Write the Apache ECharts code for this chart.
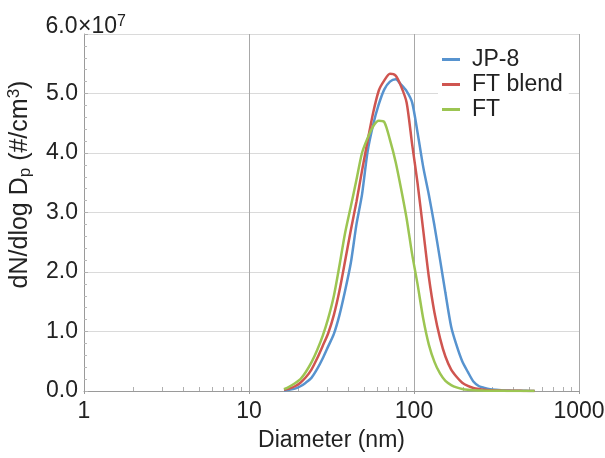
<!DOCTYPE html>
<html>
<head>
<meta charset="utf-8">
<script src="https://cdn.jsdelivr.net/npm/echarts@6/dist/echarts.min.js"></script>
<style>
  html, body { margin: 0; padding: 0; background: #fff; }
  #chart { width: 605px; height: 458px; }
</style>
</head>
<body>
<div id="chart"></div>
<script>
// Particle size distributions (SMPS), dN/dlog Dp in #/cm3
const diameters = [16.3, 17.5, 19.0, 20.5, 22.1, 23.9, 25.9, 28.0, 30.2, 32.7, 35.3, 38.2, 41.4, 44.8, 48.4, 52.3,
  56.6, 61.2, 66.1, 71.5, 77.4, 83.5, 90.2, 97.4, 105, 114, 123, 133, 144, 155, 168, 181, 196, 212, 229, 248,
  268, 289, 313, 338, 365, 395, 427, 461, 498, 538];

const jp8 = [0.01e7, 0.02e7, 0.04e7, 0.08e7, 0.14e7, 0.22e7, 0.37e7, 0.55e7, 0.75e7, 0.96e7, 1.27e7, 1.68e7,
  2.15e7, 2.8e7, 3.3e7, 4.02e7, 4.48e7, 4.82e7, 5.07e7, 5.2e7, 5.24e7, 5.15e7, 5.04e7, 4.85e7, 4.35e7, 3.75e7,
  3.3e7, 2.78e7, 2.2e7, 1.65e7, 1.08e7, 0.77e7, 0.5e7, 0.32e7, 0.16e7, 0.08e7, 0.05e7, 0.03e7, 0.02e7,
  0.013e7, 0.009e7, 0.006e7, 0.004e7, 0.003e7, 0.002e7, 0.001e7];

const ftBlend = [0.02e7, 0.04e7, 0.08e7, 0.14e7, 0.23e7, 0.36e7, 0.55e7, 0.76e7, 0.97e7, 1.28e7, 1.68e7, 2.18e7,
  2.7e7, 3.18e7, 3.7e7, 4.2e7, 4.68e7, 5.05e7, 5.22e7, 5.33e7, 5.3e7, 5.12e7, 4.85e7, 4.15e7, 3.5e7, 2.68e7,
  1.92e7, 1.32e7, 0.88e7, 0.58e7, 0.36e7, 0.24e7, 0.14e7, 0.085e7, 0.05e7, 0.032e7, 0.02e7, 0.014e7, 0.01e7,
  0.007e7, 0.005e7, 0.004e7, 0.003e7, 0.002e7, 0.0015e7, 0.001e7];

const ft = [0.03e7, 0.07e7, 0.13e7, 0.2e7, 0.32e7, 0.48e7, 0.69e7, 0.93e7, 1.22e7, 1.6e7, 2.1e7, 2.65e7,
  3.1e7, 3.55e7, 4.0e7, 4.25e7, 4.45e7, 4.54e7, 4.52e7, 4.22e7, 3.85e7, 3.4e7, 2.9e7, 2.3e7, 1.8e7, 1.2e7,
  0.78e7, 0.49e7, 0.29e7, 0.17e7, 0.1e7, 0.06e7, 0.035e7, 0.02e7, 0.012e7, 0.008e7, 0.005e7, 0.004e7,
  0.003e7, 0.0025e7, 0.002e7, 0.0015e7, 0.0012e7, 0.001e7, 0.001e7, 0.001e7];

const seriesNames = ['JP-8', 'FT blend', 'FT'];
const seriesColors = ['#5793cf', '#cf5550', '#9cc552'];

// minor tick positions between decades
const minorTicks = [2, 3, 4, 5, 6, 7, 8, 9, 20, 30, 40, 50, 60, 70, 80, 90, 200, 300, 400, 500, 600, 700, 800, 900];

const FONT = 'Liberation Sans, Arial, sans-serif';
const FS = 23;

function pairs(values) {
  return diameters.map((d, i) => [d, values[i]]);
}

const chart = echarts.init(document.getElementById('chart'), null, { renderer: 'canvas' });

chart.setOption({
  animation: false,
  backgroundColor: '#fff',
  textStyle: { fontFamily: FONT },
  grid: { left: 84, right: 26, top: 34, bottom: 67, containLabel: false, outerBoundsMode: 'none' },
  legend: {
    data: seriesNames,
    orient: 'vertical',
    left: 438,
    top: 45,
    padding: [3, 6, 3, 4],
    itemGap: 2,
    itemWidth: 18,
    itemHeight: 3,
    icon: 'rect',
    backgroundColor: '#fff',
    textStyle: { fontFamily: FONT, fontSize: FS, color: '#222', padding: [0, 0, 0, 7] }
  },
  xAxis: [
    {
      type: 'log',
      logBase: 10,
      min: 1,
      max: 1000,
      name: 'Diameter (nm)',
      nameLocation: 'middle',
      nameGap: 38,
      nameTextStyle: { fontFamily: FONT, fontSize: FS, color: '#222' },
      axisLine: { show: true, lineStyle: { color: '#9a9a9a', width: 1 } },
      axisTick: { show: true, inside: false, length: 3, lineStyle: { color: '#9a9a9a' } },
      axisLabel: { fontFamily: FONT, fontSize: FS, color: '#222', margin: 9, formatter: v => String(v) },
      splitLine: { show: true, lineStyle: { color: '#a8a8a8', width: 1 } }
    },
    {
      type: 'log',
      logBase: 10,
      min: 1,
      max: 1000,
      position: 'bottom',
      axisLine: { show: false },
      axisLabel: { show: false },
      splitLine: { show: false },
      axisTick: { show: true, inside: true, length: 4, customValues: minorTicks, lineStyle: { color: '#b0b0b0' } }
    }
  ],
  yAxis: {
    type: 'value',
    min: 0,
    max: 6e7,
    interval: 1e7,
    name: '{m|dN/dlog D}{sub|p}{m| (#/cm}{sup|3}{m|)}',
    nameLocation: 'middle',
    nameGap: 48,
    nameRotate: 90,
    nameTextStyle: {
      padding: [0, 0, 0, 56],
      rich: {
        m: { fontFamily: FONT, fontSize: 25, color: '#222', lineHeight: 28 },
        sub: { fontFamily: FONT, fontSize: 17, color: '#222', lineHeight: 14, verticalAlign: 'bottom' },
        sup: { fontFamily: FONT, fontSize: 17, color: '#222', lineHeight: 14, verticalAlign: 'top' }
      }
    },
    axisLine: { show: true, lineStyle: { color: '#9a9a9a', width: 1 } },
    axisTick: { show: true, inside: true, length: 4, lineStyle: { color: '#b0b0b0' } },
    minorTick: { show: true, splitNumber: 5, length: 3, lineStyle: { color: '#b8b8b8' } },
    splitLine: { show: true, lineStyle: { color: '#dadada', width: 1 } },
    axisLabel: {
      align: 'left',
      margin: 39,
      formatter: function (v) {
        const txt = (v / 1e7).toFixed(1);
        if (v === 6e7) return '{n|' + txt + '}{t|×10}{s|7}\n{g| }';
        return '{n|' + txt + '}';
      },
      rich: {
        n: { fontFamily: FONT, fontSize: FS, color: '#222', width: 33, align: 'right', lineHeight: 26 },
        t: { fontFamily: FONT, fontSize: FS, color: '#222', lineHeight: 26 },
        s: { fontFamily: FONT, fontSize: 16, color: '#222', lineHeight: 12, verticalAlign: 'top' },
        g: { fontSize: 10, lineHeight: 14 }
      }
    }
  },
  series: [
    { name: seriesNames[0], type: 'line', data: pairs(jp8), showSymbol: false, smooth: 0.25, lineStyle: { width: 2.5, color: seriesColors[0] }, itemStyle: { color: seriesColors[0] } },
    { name: seriesNames[1], type: 'line', data: pairs(ftBlend), showSymbol: false, smooth: 0.25, lineStyle: { width: 2.5, color: seriesColors[1] }, itemStyle: { color: seriesColors[1] } },
    { name: seriesNames[2], type: 'line', data: pairs(ft), showSymbol: false, smooth: 0.25, lineStyle: { width: 2.5, color: seriesColors[2] }, itemStyle: { color: seriesColors[2] } }
  ]
});
</script>
</body>
</html>
